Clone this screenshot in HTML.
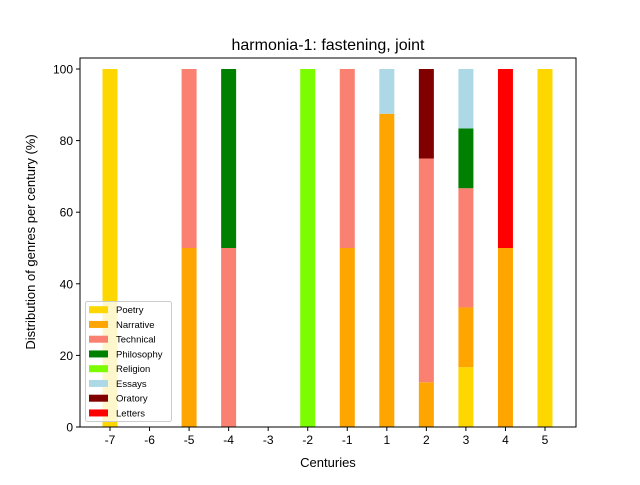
<!DOCTYPE html>
<html><head><meta charset="utf-8"><style>
body{margin:0;background:#fff}
svg text{font-family:"Liberation Sans","DejaVu Sans",sans-serif}
</style></head><body>
<svg id="chart" width="640" height="480" xmlns="http://www.w3.org/2000/svg">
<rect width="640" height="480" fill="#fff"/>
<text x="328" y="50" font-size="16" text-anchor="middle">harmonia-1: fastening, joint</text>
<g id="bars"></g>
<g id="axes"></g>
<text x="328" y="467" font-size="13" text-anchor="middle">Centuries</text>
<text transform="translate(35,242) rotate(-90)" font-size="13" text-anchor="middle">Distribution of genres per century (%)</text>
<g id="legend"></g>
</svg>
<script>
const categories = ["-7","-6","-5","-4","-3","-2","-1","1","2","3","4","5"+""];
const genres = ["Poetry","Narrative","Technical","Philosophy","Religion","Essays","Oratory","Letters"];
const colors = ["#FFD700","#FFA500","#FA8072","#008000","#7CFC00","#ADD8E6","#800000","#FF0000"];
const poetry     = [100,0,0,0,0,0,0,0,0,16.7,0,100];
const narrative  = [0,0,50,0,0,0,50,87.5,12.5,16.7,50,0];
const technical  = [0,0,50,50,0,0,50,0,62.5,33.3,0,0];
const philosophy = [0,0,0,50,0,0,0,0,0,16.7,0,0];
const religion   = [0,0,0,0,0,100,0,0,0,0,0,0];
const essays     = [0,0,0,0,0,0,0,12.5,0,16.6,0,0];
const oratory    = [0,0,0,0,0,0,0,0,25,0,0,0];
const letters    = [0,0,0,0,0,0,0,0,0,0,50,0];
const yTicks = [0,20,40,60,80,100];
</script>
<script>
const allCats = ["-7","-6","-5","-4","-3","-2","-1","1","2","3","4","5"];
const series = [poetry,narrative,technical,philosophy,religion,essays,oratory,letters];
const NS="http://www.w3.org/2000/svg";
const L=80,R=576,T=58,B=427;
const cats = categories.length===allCats.length?categories:allCats;
const xs = i => 110 + i*(545-110)/(cats.length-1);
const ys = v => 427 - v*(427-69)/100;
function mk(tag,attrs,parent){const e=document.createElementNS(NS,tag);for(const k in attrs)e.setAttribute(k,attrs[k]);parent.appendChild(e);return e;}
const bars=document.getElementById('bars');
cats.forEach((c,i)=>{
  let base=0;
  series.forEach((s,j)=>{
    const v=s[i]; if(!v) return;
    const r=mk('rect',{x:xs(i)-7.5,y:ys(base+v),width:15,height:ys(base)-ys(base+v),fill:colors[j]},bars);
    
    
    base+=v;
  });
});
const ax=document.getElementById('axes');
const frame=mk('rect',{x:L,y:T,width:R-L,height:B-T,fill:'none',stroke:'#000','stroke-width':1},ax);


cats.forEach((c,i)=>{
  mk('line',{x1:xs(i),x2:xs(i),y1:B,y2:B+4,stroke:'#000'},ax);
  const t=mk('text',{x:xs(i),y:B+17,'font-size':12,'text-anchor':'middle'},ax);
  t.textContent=c;
  
  
});
yTicks.forEach(v=>{
  mk('line',{x1:L-4,x2:L,y1:ys(v),y2:ys(v),stroke:'#000'},ax);
  const t=mk('text',{x:L-7,y:ys(v)+4.5,'font-size':12,'text-anchor':'end'},ax);
  t.textContent=v;
  
  
});
const lg=document.getElementById('legend');


mk('rect',{x:85.5,y:301.5,width:86,height:120,rx:2,fill:'#fff','fill-opacity':0.8,stroke:'#ccc'},lg);
genres.forEach((g,j)=>{
  const y=309.7+j*14.75;
  mk('rect',{x:89,y:y-3.5,width:19,height:7,fill:colors[j]},lg);
  const t=mk('text',{x:116,y:y+3.5,'font-size':9.5},lg);
  t.textContent=g;
  
  
});
</script>
</body></html>
